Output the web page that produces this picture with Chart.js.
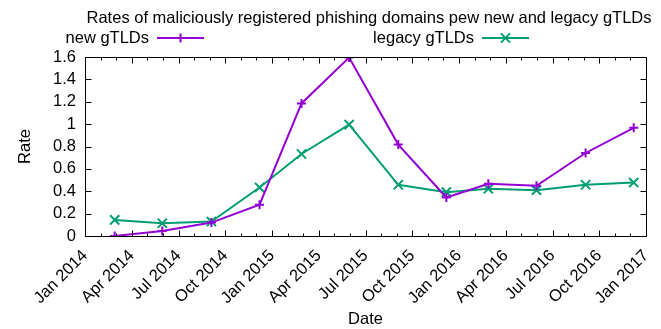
<!DOCTYPE html>
<html><head><meta charset="utf-8">
<script src="https://cdn.jsdelivr.net/npm/chart.js@4/dist/chart.umd.min.js"></script>
<style>html,body{margin:0;padding:0;background:#fff}#wrap{width:661px;height:329px;position:relative}</style>
</head><body><div id="wrap"><canvas id="c"></canvas></div>
<script>
const chartTitle = 'Rates of maliciously registered phishing domains pew new and legacy gTLDs';
const seriesNames = ['new gTLDs', 'legacy gTLDs'];
const xTickLabels = ['Jan 2014','Apr 2014','Jul 2014','Oct 2014','Jan 2015','Apr 2015','Jul 2015','Oct 2015','Jan 2016','Apr 2016','Jul 2016','Oct 2016','Jan 2017'];
const dates = ['2014-02-28','2014-06-01','2014-09-05','2014-12-08','2015-02-28','2015-06-01','2015-09-05','2015-12-08','2016-02-28','2016-06-01','2016-09-05','2016-12-08'];
const newGTLDs = [0, 0.045, 0.12, 0.28, 1.185, 1.595, 0.817, 0.344, 0.467, 0.449, 0.742, 0.967];
const legacyGTLDs = [0.144, 0.114, 0.129, 0.434, 0.733, 0.996, 0.458, 0.392, 0.422, 0.41, 0.458, 0.478];
const yTickValues = [0, 0.2, 0.4, 0.6, 0.8, 1, 1.2, 1.4, 1.6];

const FONT = 'Liberation Sans, Arial, sans-serif';
const FS = 16.5;
const colors = ['#9400d3', '#009e73'];
const start = Date.UTC(2014,0,1), end = Date.UTC(2017,0,1);
const nMonths = 36;
function toX(d){ const t = Date.parse(d+'T00:00:00Z'); return (t-start)/(end-start)*nMonths; }
const xMajor = xTickLabels.map((_,i)=>i*3);

const frame = {
  id:'frame',
  afterDraw(chart){
    const ctx = chart.ctx, a = chart.chartArea;
    const xs = chart.scales.x, ys = chart.scales.y;
    ctx.save();
    ctx.strokeStyle = '#000'; ctx.lineWidth = 1;
    ctx.beginPath();
    const L = Math.round(a.left)+0.5, R = Math.round(a.right)+0.5, T = Math.round(a.top)+0.5, B = Math.round(a.bottom)+0.5;
    ctx.rect(L, T, R-L, B-T);
    for (let m=0;m<=nMonths;m++){
      const x = Math.round(xs.getPixelForValue(m))+0.5;
      const len = (m%3===0)?6:3;
      ctx.moveTo(x,B); ctx.lineTo(x,B-len);
      ctx.moveTo(x,T); ctx.lineTo(x,T+len);
    }
    yTickValues.forEach(v=>{
      const y = Math.round(ys.getPixelForValue(v))+0.5;
      ctx.moveTo(L,y); ctx.lineTo(L+6,y);
      ctx.moveTo(R,y); ctx.lineTo(R-6,y);
    });
    ctx.stroke();
    // title
    ctx.fillStyle = '#000';
    ctx.font = FS+'px '+FONT;
    ctx.textAlign = 'center'; ctx.textBaseline = 'middle';
    ctx.fillText(chartTitle, 369, 18);
    // legend
    const ent = [{tx:149, l0:157, l1:204},{tx:474, l0:482, l1:529}];
    chart.data.datasets.forEach((ds,i)=>{
      const e = ent[i], y = 38;
      ctx.textAlign = 'right';
      ctx.fillStyle = '#000';
      ctx.fillText(ds.label, e.tx, y);
      ctx.strokeStyle = ds.borderColor; ctx.lineWidth = 2;
      ctx.beginPath(); ctx.moveTo(e.l0,y); ctx.lineTo(e.l1,y); ctx.stroke();
      Chart.helpers.drawPoint(ctx, {pointStyle: ds.pointStyle, rotation:0, radius: ds.pointRadius, borderWidth: 2}, (e.l0+e.l1)/2, y);
    });
    ctx.restore();
  }
};

new Chart(document.getElementById('c'), {
  type:'line',
  data:{
    datasets:[
      {label:seriesNames[0], data: dates.map((d,i)=>({x:toX(d), y:newGTLDs[i]})), borderColor:colors[0], backgroundColor:colors[0], borderWidth:2, pointStyle:'cross', pointRadius:4.5, pointBorderWidth:2, pointHoverRadius:4.5, tension:0, fill:false},
      {label:seriesNames[1], data: dates.map((d,i)=>({x:toX(d), y:legacyGTLDs[i]})), borderColor:colors[1], backgroundColor:colors[1], borderWidth:2, pointStyle:'crossRot', pointRadius:6.5, pointBorderWidth:2, pointHoverRadius:6.5, tension:0, fill:false}
    ]
  },
  options:{
    responsive:true, maintainAspectRatio:false, animation:false,
    devicePixelRatio:1,
    layout:{padding:{top:57, right:15, left:0, bottom:0}},
    plugins:{legend:{display:false}, title:{display:false}, tooltip:{enabled:false}},
    scales:{
      x:{type:'linear', min:0, max:nMonths,
        afterBuildTicks(s){ s.ticks = xMajor.map(v=>({value:v})); },
        afterFit(s){ s.height = 93; s.paddingLeft = 0; s.paddingRight = 0; },
        grid:{display:false, drawTicks:false}, border:{display:false},
        ticks:{minRotation:45, maxRotation:45, autoSkip:false, padding:10, color:'#000', font:{family:FONT, size:FS},
          callback:(v)=> xTickLabels[Math.round(v/3)]},
        title:{display:true, text:'Date', color:'#000', font:{family:FONT, size:FS}, padding:{top:0,bottom:0}}
      },
      y:{min:0, max:1.6,
        afterBuildTicks(s){ s.ticks = yTickValues.map(v=>({value:v})); },
        afterFit(s){ s.width = 85; s.paddingTop = 0; s.paddingBottom = 0; },
        grid:{display:false, drawTicks:false}, border:{display:false},
        ticks:{autoSkip:false, padding:9, color:'#000', font:{family:FONT, size:FS}, callback:(v)=>String(v)},
        title:{display:true, text:'Rate', color:'#000', font:{family:FONT, size:FS}, padding:{top:16,bottom:0}}
      }
    }
  },
  plugins:[frame]
});
</script></body></html>
